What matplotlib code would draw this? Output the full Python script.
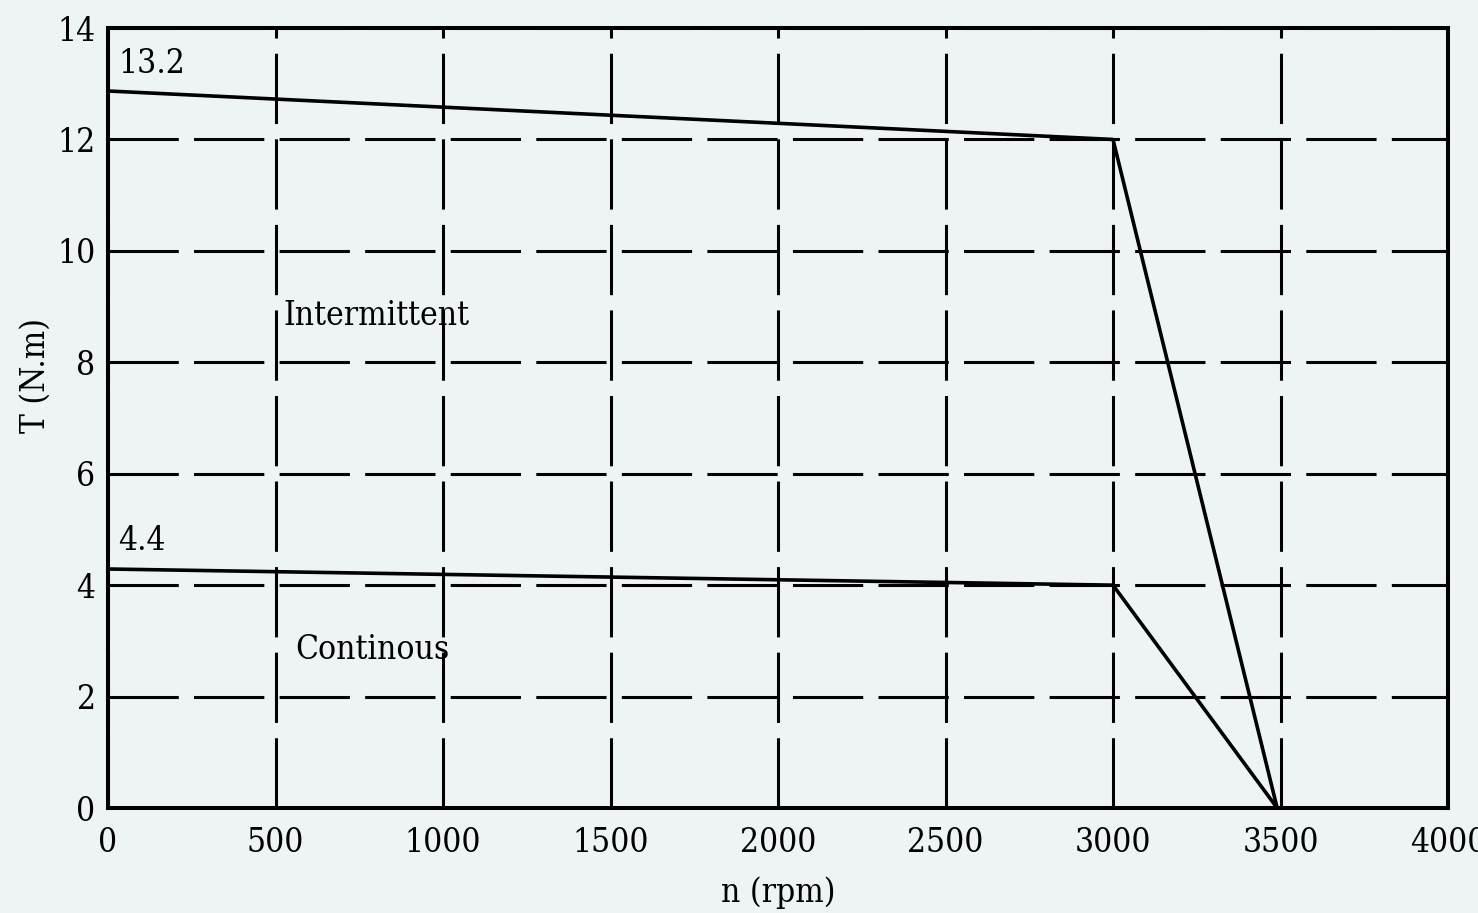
import matplotlib.pyplot as plt

# data
speed = [0, 3000, 3490]
torque_intermittent = [12.87, 12.0, 0.0]
torque_continuous = [4.29, 4.0, 0.0]
x_ticks = [0, 500, 1000, 1500, 2000, 2500, 3000, 3500, 4000]
y_ticks = [0, 2, 4, 6, 8, 10, 12, 14]

bg = '#EEF3F6'
plt.rcParams['font.family'] = 'DejaVu Serif'
plt.rcParams['font.stretch'] = 'condensed'

fig = plt.figure(figsize=(14.78, 9.13), dpi=100, facecolor=bg)
ax = fig.add_axes([0.0731, 0.115, 0.9066, 0.8543])
ax.set_facecolor(bg)

ax.plot(speed, torque_intermittent, color='black', lw=2.6, zorder=3)
ax.plot(speed, torque_continuous, color='black', lw=2.6, zorder=3)

ax.set_xlim(0, 4000)
ax.set_ylim(0, 14)
ax.set_xticks(x_ticks)
ax.set_yticks(y_ticks)
ax.tick_params(length=0, labelsize=24)
ax.tick_params(axis='y', pad=9)
ax.tick_params(axis='x', pad=14)
ax.grid(True, color='black', lw=2.2, linestyle=(0, (23, 5)))

for s in ax.spines.values():
    s.set_linewidth(2.9)

ax.text(30, 13.36, '13.2', fontsize=24, va='center')
ax.text(30, 4.79, '4.4', fontsize=24, va='center')
ax.text(522, 8.83, 'Intermittent', fontsize=24, va='center')
ax.text(558, 2.84, 'Continous', fontsize=24, va='center')

ax.set_xlabel('n (rpm)', fontsize=24, labelpad=12)
ax.set_ylabel('T (N.m)', fontsize=24)
ax.yaxis.set_label_coords(-0.042, 0.555)

fig.savefig('out.png', dpi=100, facecolor=bg)
